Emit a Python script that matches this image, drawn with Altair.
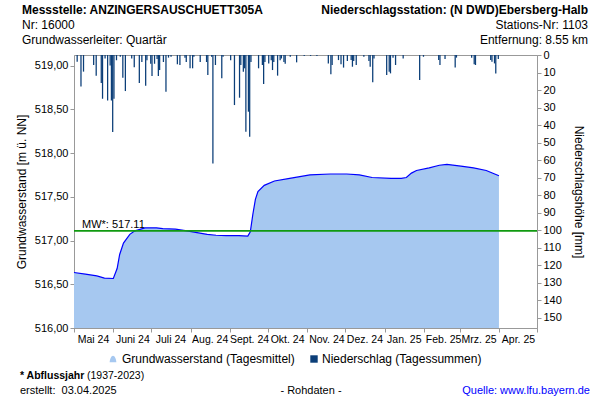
import altair as alt
import pandas as pd
from datetime import date, timedelta

START = date(2024, 5, 1)

# Groundwater level (daily mean), read at selected days after 1 May 2024 (m ü. NN)
gw_day = [0, 9, 18, 24, 31, 34, 36, 39, 44, 48, 56, 65, 70, 80, 89, 97, 105, 112, 120,
          130, 137, 139, 141, 143, 145, 150, 158, 170, 186, 202, 215, 225, 235, 250, 258,
          262, 266, 270, 280, 288, 294, 305, 315, 325, 335]
gw_level = [516.634, 516.615, 516.595, 516.570, 516.566, 516.680, 516.840, 516.970, 517.070,
            517.110, 517.145, 517.145, 517.135, 517.130, 517.110, 517.090, 517.070, 517.060,
            517.055, 517.055, 517.050, 517.100, 517.300, 517.470, 517.560, 517.630, 517.680,
            517.710, 517.750, 517.760, 517.760, 517.750, 517.720, 517.710, 517.710, 517.720,
            517.770, 517.800, 517.830, 517.860, 517.870, 517.850, 517.830, 517.800, 517.740]

# Daily precipitation sums (days after 1 May 2024, mm)
pr_day = [2, 5, 7, 15, 17, 21, 22, 24, 26, 28, 29, 30, 31, 33, 36, 38, 40, 45, 47, 51, 53,
          56, 57, 60, 61, 63, 65, 66, 67, 70, 72, 74, 76, 81, 83, 87, 88, 91, 93, 94, 99,
          104, 105, 108, 109, 111, 116, 117, 123, 126, 130, 131, 133, 134, 135, 137, 138,
          139, 145, 148, 149, 150, 153, 155, 156, 157, 160, 162, 163, 165, 166, 170, 175,
          181, 186, 191, 200, 202, 203, 208, 210, 212, 215, 218, 219, 220, 222, 228, 232,
          233, 235, 236, 246, 248, 249, 251, 253, 259, 272, 275, 287, 288, 292, 300, 301,
          313, 315, 316, 328, 329, 331, 332, 334]
pr_mm = [3.8, 18, 9.5, 5.7, 11.8, 16, 25, 2, 26, 6, 26, 44, 25, 3, 1, 13, 20.6, 2, 7, 16, 4,
         17.5, 3, 5, 12, 5, 2.3, 12, 8.6, 4, 21, 1.5, 1, 5.3, 5.7, 1.5, 4, 7.6, 7.6, 1, 4,
         4, 11.4, 1, 62, 5.7, 13.3, 1, 3, 28.6, 24.4, 5.7, 9.5, 7.6, 43.8, 32.4, 46.7,
         4, 7.6, 5.7, 16.6, 4, 4.8, 3, 8.6, 4, 11.8, 3, 2, 4, 5, 1, 4.2,
         0.5, 0.5, 0.5, 4.8, 11, 5.7, 2.9, 5.3, 7.2, 3.4, 2.9, 6.7, 3.4, 5.7, 1, 3.4,
         6.7, 15.6, 2, 11.4, 9.5, 10.5, 1.5, 5.7, 2, 14.3, 1, 2.9, 5.7, 2.3, 7.2, 1.5,
         1.5, 5.3, 5.7, 2.9, 3.8, 4.8, 10.5, 2.3]

month_names = ["Jan.", "Feb.", "Mrz.", "Apr.", "Mai", "Juni", "Juli", "Aug.", "Sept.",
               "Okt.", "Nov.", "Dez."]
tick_months = [(2024, 5), (2024, 6), (2024, 7), (2024, 8), (2024, 9), (2024, 10), (2024, 11),
               (2024, 12), (2025, 1), (2025, 2), (2025, 3), (2025, 4), (2025, 5)]
gw_ticks = [516.00, 516.25, 516.50, 516.75, 517.00, 517.25, 517.50, 517.75, 518.00,
            518.25, 518.50, 518.75, 519.00]
pr_ticks = [0, 10, 20, 30, 40, 50, 60, 70, 80, 90, 100, 110, 120, 130, 140, 150]
mean_level = 517.11


def iso(d):
    return (START + timedelta(days=d)).isoformat()


gw = pd.DataFrame({"date": [iso(d) for d in gw_day], "level": gw_level})
pr = pd.DataFrame({"date": [iso(d) for d in pr_day],
                   "date_end": [iso(d + 1) for d in pr_day],
                   "mm": pr_mm})
one = pd.DataFrame({"a": [0]})

FILL = "#a6c8f0"
LINE = "#0000ff"
BAR = "#0b3e78"
GREEN = "#109a10"
GREY = "#999999"

month_js = "[" + ",".join("'" + m + "'" for m in month_names) + "]"
x_label_expr = ("utcyear(datum.value) == 2025 && utcmonth(datum.value) == 4 ? '' : "
                + month_js + "[utcmonth(datum.value)] + ' ' + utcFormat(datum.value, '%y')")

x_scale = alt.Scale(type="utc", domain=[alt.DateTime(year=2024, month=5, date=1, utc=True),
                                       alt.DateTime(year=2025, month=5, date=1, utc=True)])
x_axis = alt.Axis(values=[alt.DateTime(year=y, month=m, date=1, utc=True) for y, m in tick_months],
                  labelExpr=x_label_expr, labelOffset=19, labelFontSize=10.5,
                  labelOverlap=False, labelFlush=False, title=None, tickSize=4)
x_enc = alt.X("date:T", scale=x_scale, axis=x_axis)

left_axis = alt.Axis(values=gw_ticks, orient="left",
                     labelExpr="replace(format(datum.value, '.2f'), '.', ',')",
                     title="Grundwasserstand [m ü. NN]", titlePadding=6)
y_left = alt.Y("level:Q", scale=alt.Scale(domain=[516, 519.12], nice=False, zero=False),
               axis=left_axis)

area = alt.Chart(gw).mark_area(color=FILL, opacity=1).encode(x=x_enc, y=y_left, y2=alt.datum(516))
line = alt.Chart(gw).mark_line(color=LINE, strokeWidth=1.2).encode(x=x_enc, y=y_left)
mw_rule = alt.Chart(one).mark_rule(color=GREEN, strokeWidth=1.6).encode(y=alt.datum(mean_level))
mw_text = alt.Chart(one).mark_text(align="left", baseline="alphabetic", fontSize=11, dy=-3).encode(
    x=alt.value(8), y=alt.datum(mean_level), text=alt.value("MW*: 517.11"))

inner = alt.layer(area, line, mw_rule, mw_text)

right_axis = alt.Axis(values=pr_ticks, orient="right", title="Niederschlagshöhe [mm]",
                      titlePadding=10)
bars = alt.Chart(pr).mark_bar(color=BAR).encode(
    x=x_enc, x2="date_end:T",
    y=alt.Y("mm:Q", scale=alt.Scale(domain=[0, 156], reverse=True, nice=False, zero=True),
            axis=right_axis),
    y2=alt.datum(0))


def txt(s, x, y, size=12, weight="normal", align="left", color="black", baseline="alphabetic"):
    return alt.Chart(one).mark_text(align=align, baseline=baseline, fontSize=size,
                                    fontWeight=weight, color=color).encode(
        x=alt.value(x), y=alt.value(y), text=alt.value(s))


decor = [
    txt("Messstelle: ANZINGERSAUSCHUETT305A", -52, -41, weight="bold"),
    txt("Nr: 16000", -52, -26),
    txt("Grundwasserleiter: Quartär", -52, -11),
    txt("Niederschlagsstation: (N DWD)Ebersberg-Halb", 514, -41, weight="bold", align="right"),
    txt("Stations-Nr: 1103", 514, -26, align="right"),
    txt("Entfernung: 8.55 km", 514, -11, align="right"),
    alt.Chart(one).mark_point(
        shape="M-1,1 C-1,0.1 -0.5,-1 0,-1 C0.5,-1 1,0.1 1,1 Z", filled=True, size=45,
        color=FILL, opacity=1).encode(x=alt.value(39), y=alt.value(304)),
    txt("Grundwasserstand (Tagesmittel)", 48, 304, baseline="middle"),
    alt.Chart(one).mark_square(size=55, color=BAR, opacity=1).encode(
        x=alt.value(240), y=alt.value(304)),
    txt("Niederschlag (Tagessummen)", 248, 304, baseline="middle"),
    txt("* Abflussjahr", -54, 321, size=10.5, weight="bold", baseline="middle"),
    txt("(1937-2023)", 13, 321, size=10.5, baseline="middle"),
    txt("erstellt:\u00a0\u00a003.04.2025", -54, 336, size=11, baseline="middle"),
    txt("- Rohdaten -", 237, 336, size=11, align="center", baseline="middle"),
    txt("Quelle: www.lfu.bayern.de", 516, 336, size=11, align="right", color="#0000ff",
        baseline="middle"),
]

chart = alt.layer(inner, bars, *decor).resolve_scale(y="independent").properties(
    width=463, height=273,
    autosize=alt.AutoSizeParams(type="none"),
    padding={"left": 74, "top": 55, "right": 63, "bottom": 72},
).configure(font="Liberation Sans").configure_view(
    stroke=GREY, strokeWidth=1
).configure_axis(
    domainColor=GREY, tickColor=GREY, labelColor="black", titleColor="black", grid=False,
    titleFontWeight="normal", labelFontSize=11, titleFontSize=12, tickSize=4, labelPadding=2
)

chart.save("out.html", embed_options={"renderer": "svg", "actions": False})
